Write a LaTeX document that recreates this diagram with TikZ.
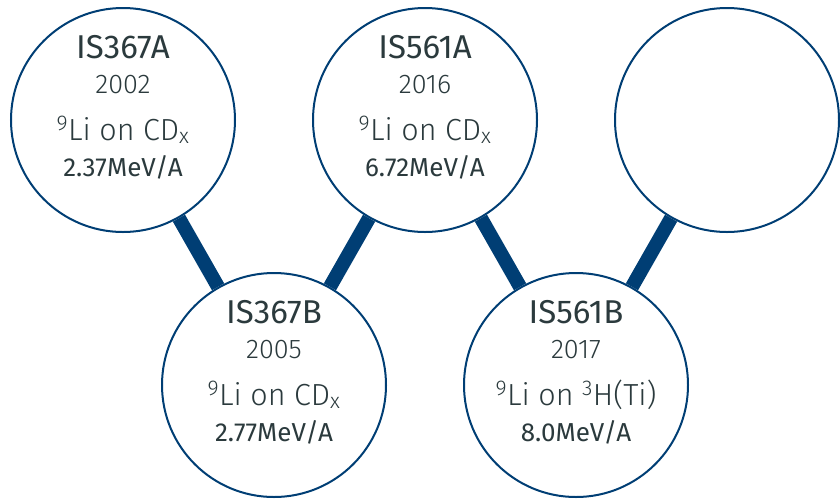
\documentclass[tikz,border=0pt]{standalone}
\usepackage{fontspec}
\setmainfont{Fira Sans}
\newfontfamily\firalight{Fira Sans Light}
\usepackage{tikz}
\usetikzlibrary{positioning}
\definecolor{runblue}{HTML}{003E74}
\definecolor{runtext}{HTML}{2B3A3D}
\tikzset{runnode/.style={circle, draw=runblue, fill=white, line width=2pt, minimum size=224pt, inner sep=0pt},
  titletext/.style={anchor=base, inner sep=0pt, text=runtext, font=\fontsize{33}{36}\selectfont},
  yeartext/.style={anchor=base, inner sep=0pt, text=runtext, font=\firalight\fontsize{27}{30}\selectfont},
  beamtext/.style={anchor=base, inner sep=0pt, text=runtext, font=\firalight\fontsize{30.5}{33}\selectfont},
  energytext/.style={anchor=base, inner sep=0pt, text=runtext, font=\fontsize{26}{29}\selectfont},
  link/.style={line width=14pt, draw=runblue},}

\begin{document}
\begin{tikzpicture}[on grid, node distance=302pt]
\useasboundingbox (0pt,0pt) rectangle (840pt,-499pt);
\node [runnode] (a) at (123pt,-120pt) {};
\node [runnode] (b) [right=of a] {};
\node [runnode] (c) [right=of b] {};
\node [runnode] (d) [below right=265pt and 151pt of a] {};
\node [runnode] (e) [right=of d] {};
\draw[link] (a) -- (d);
\draw[link] (b) -- (d);
\draw[link] (b) -- (e);
\draw[link] (c) -- (e);
% IS367A
\node [titletext] (a-t) at ([yshift=62pt]a) {IS367A};
\node [yeartext] (a-y) at ([yshift=27pt]a) {2002};
\node [beamtext] (a-s) at ([yshift=-20pt]a) {\textsuperscript{9}Li on CD\textsubscript{x}};
\node [energytext] (a-e) at ([yshift=-56pt]a) {2.37MeV/A};
% IS561A
\node [titletext] (b-t) at ([yshift=62pt]b) {IS561A};
\node [yeartext] (b-y) at ([yshift=27pt]b) {2016};
\node [beamtext] (b-s) at ([yshift=-20pt]b) {\textsuperscript{9}Li on CD\textsubscript{x}};
\node [energytext] (b-e) at ([yshift=-56pt]b) {6.72MeV/A};
% IS367B
\node [titletext] (d-t) at ([yshift=62pt]d) {IS367B};
\node [yeartext] (d-y) at ([yshift=27pt]d) {2005};
\node [beamtext] (d-s) at ([yshift=-20pt]d) {\textsuperscript{9}Li on CD\textsubscript{x}};
\node [energytext] (d-e) at ([yshift=-56pt]d) {2.77MeV/A};
% IS561B
\node [titletext] (e-t) at ([yshift=62pt]e) {IS561B};
\node [yeartext] (e-y) at ([yshift=27pt]e) {2017};
\node [beamtext] (e-s) at ([yshift=-20pt]e) {\textsuperscript{9}Li on \textsuperscript{3}H(Ti)};
\node [energytext] (e-e) at ([yshift=-56pt]e) {8.0MeV/A};
\end{tikzpicture}
\end{document}
